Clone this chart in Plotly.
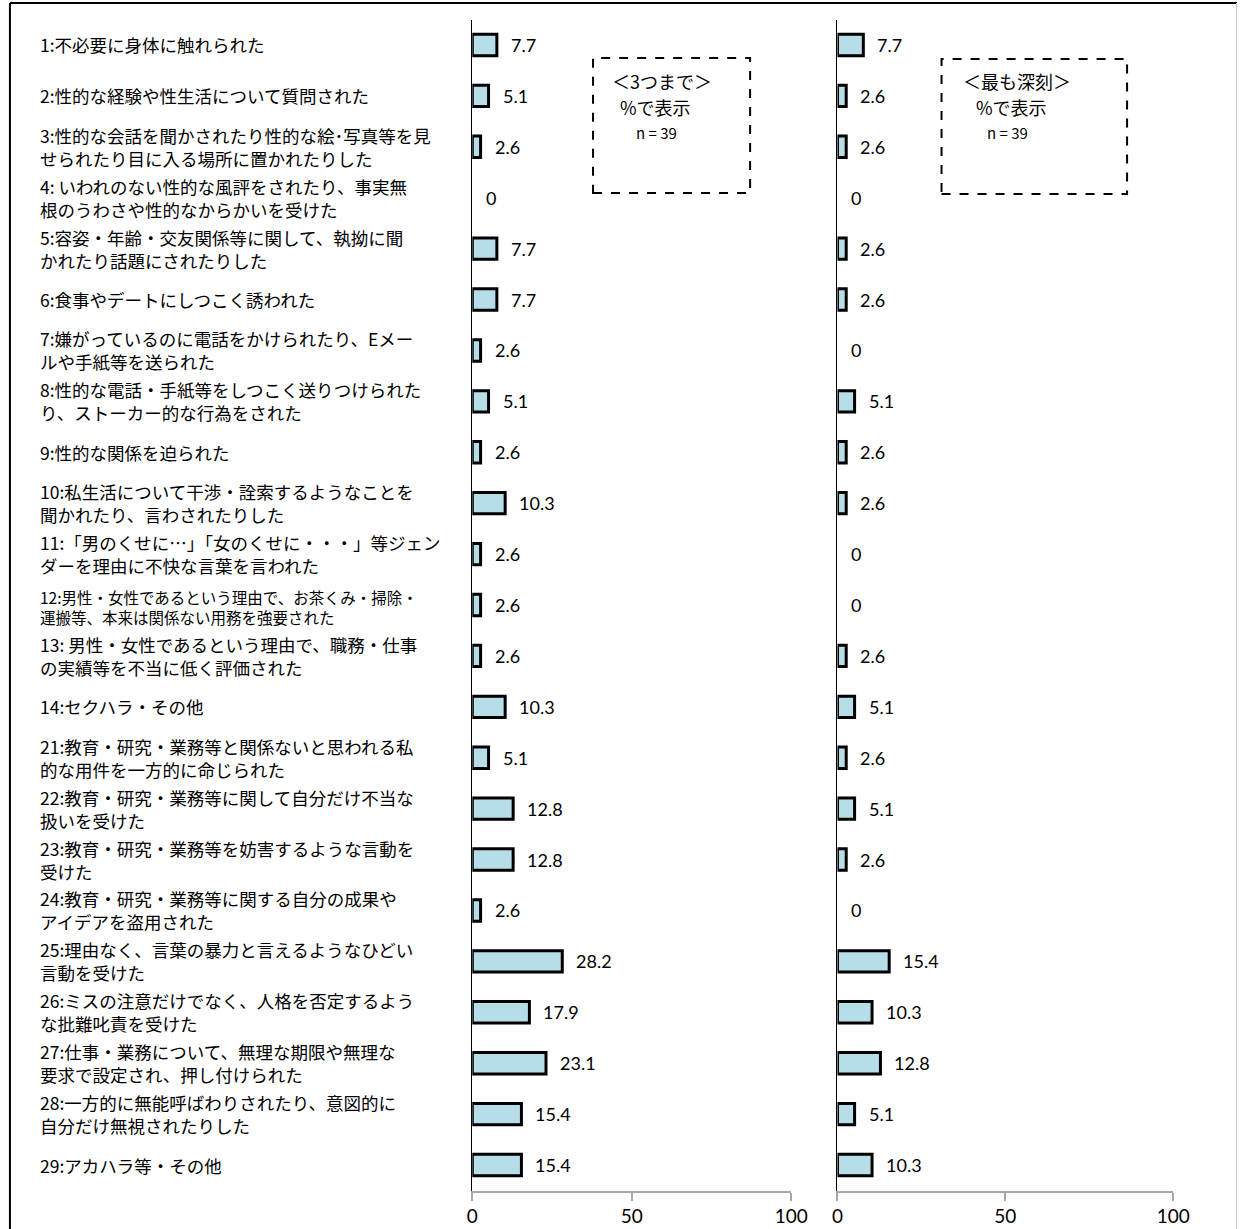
import plotly.graph_objects as go

# Survey items; <br> marks the line breaks of the labels
item_texts = [
    "1:不必要に身体に触れられた",
    "2:性的な経験や性生活について質問された",
    "3:性的な会話を聞かされたり性的な絵･写真等を見<br>せられたり目に入る場所に置かれたりした",
    "4: いわれのない性的な風評をされたり、事実無<br>根のうわさや性的なからかいを受けた",
    "5:容姿・年齢・交友関係等に関して、執拗に聞<br>かれたり話題にされたりした",
    "6:食事やデートにしつこく誘われた",
    "7:嫌がっているのに電話をかけられたり、Eメー<br>ルや手紙等を送られた",
    "8:性的な電話・手紙等をしつこく送りつけられた<br>り、ストーカー的な行為をされた",
    "9:性的な関係を迫られた",
    "10:私生活について干渉・詮索するようなことを<br>聞かれたり、言わされたりした",
    "11:「男のくせに…」「女のくせに・・・」等ジェン<br>ダーを理由に不快な言葉を言われた",
    "12:男性・女性であるという理由で、お茶くみ・掃除・<br>運搬等、本来は関係ない用務を強要された",
    "13: 男性・女性であるという理由で、職務・仕事<br>の実績等を不当に低く評価された",
    "14:セクハラ・その他",
    "21:教育・研究・業務等と関係ないと思われる私<br>的な用件を一方的に命じられた",
    "22:教育・研究・業務等に関して自分だけ不当な<br>扱いを受けた",
    "23:教育・研究・業務等を妨害するような言動を<br>受けた",
    "24:教育・研究・業務等に関する自分の成果や<br>アイデアを盗用された",
    "25:理由なく、言葉の暴力と言えるようなひどい<br>言動を受けた",
    "26:ミスの注意だけでなく、人格を否定するよう<br>な批難叱責を受けた",
    "27:仕事・業務について、無理な期限や無理な<br>要求で設定され、押し付けられた",
    "28:一方的に無能呼ばわりされたり、意図的に<br>自分だけ無視されたりした",
    "29:アカハラ等・その他",
]

# Percentages (n = 39)
up_to_three = [7.7, 5.1, 2.6, 0, 7.7, 7.7, 2.6, 5.1, 2.6, 10.3, 2.6, 2.6, 2.6, 10.3,
               5.1, 12.8, 12.8, 2.6, 28.2, 17.9, 23.1, 15.4, 15.4]
most_serious = [7.7, 2.6, 2.6, 0, 2.6, 2.6, 0, 5.1, 2.6, 2.6, 0, 0, 2.6, 5.1,
                2.6, 5.1, 2.6, 0, 15.4, 10.3, 12.8, 5.1, 10.3]

panel_titles = ["＜3つまで＞", "＜最も深刻＞"]
unit_note = "%で表示"
sample_note = "n = 39"
x_ticks = [0, 50, 100]

W, H = 1255, 1229
BAR_FILL = "#B7DEE8"
AXIS_GREY = "#A6A6A6"
JP_FONT = "Noto Sans CJK JP"
NUM_FONT = "Lato"
N = len(item_texts)


def px_x(p):
    return p / W


def px_y(p):
    return 1 - p / H


fig = go.Figure()
for vals, xa, ya in [(up_to_three, "x", "y"), (most_serious, "x2", "y2")]:
    # no outline on empty bars, so a zero leaves no mark
    outline = [3 if v > 0 else 0 for v in vals]
    fig.add_trace(go.Bar(
        x=vals, y=item_texts, orientation="h", xaxis=xa, yaxis=ya,
        marker=dict(color=BAR_FILL, line=dict(color="black", width=outline)),
        hoverinfo="x", showlegend=False,
    ))

annotations = []
# item wording at the left
for txt in item_texts:
    small = txt.startswith("12:")
    annotations.append(dict(
        x=px_x(33), xref="paper", y=txt, yref="y", text=txt,
        xanchor="left", yanchor="middle", align="left", showarrow=False,
        yshift=-2 if small else 0,
        font=dict(family=JP_FONT, size=15.5 if small else 17.5, color="black"),
    ))
# value labels beside the bars
for vals, xa, ya in [(up_to_three, "x", "y"), (most_serious, "x2", "y2")]:
    for txt, v in zip(item_texts, vals):
        annotations.append(dict(
            x=v, xref=xa, y=txt, yref=ya, text=f"{v:g}",
            xanchor="left", yanchor="middle", xshift=12, showarrow=False,
            font=dict(family=NUM_FONT, size=18, color="black"),
        ))

# legend boxes (dashed) with their notes
boxes = [(598, 58, 758, 193, 668, 665), (953, 59, 1142, 194, 1030, 1022)]
shapes = []
for (x0, y0, x1, y1, cx, nx), title in zip(boxes, panel_titles):
    shapes.append(dict(
        type="rect", xref="paper", yref="paper",
        x0=px_x(x0), x1=px_x(x1), y0=px_y(y1), y1=px_y(y0),
        line=dict(color="black", width=2, dash="dash"), fillcolor="rgba(0,0,0,0)",
    ))
    annotations.append(dict(x=px_x(cx), y=px_y(81), xref="paper", yref="paper",
                            text=title, showarrow=False, xanchor="center", yanchor="middle",
                            font=dict(family=JP_FONT, size=18, color="black")))
    annotations.append(dict(x=px_x(cx - 6), y=px_y(107), xref="paper", yref="paper",
                            text=unit_note, showarrow=False, xanchor="center", yanchor="middle",
                            font=dict(family=JP_FONT, size=18, color="black")))
    annotations.append(dict(x=px_x(nx - 2), y=px_y(132), xref="paper", yref="paper",
                            text=sample_note, showarrow=False, xanchor="center", yanchor="middle",
                            font=dict(family=JP_FONT, size=15, color="black")))

# outer frame
shapes += [
    dict(type="line", xref="paper", yref="paper", x0=px_x(4), x1=px_x(1254),
         y0=px_y(3), y1=px_y(3), line=dict(color="black", width=2)),
    dict(type="line", xref="paper", yref="paper", x0=px_x(4), x1=px_x(4),
         y0=px_y(3), y1=px_y(1232), line=dict(color="black", width=2)),
    dict(type="line", xref="paper", yref="paper", x0=px_x(1253.5), x1=px_x(1253.5),
         y0=px_y(3), y1=px_y(1232), line=dict(color="#D0D0D0", width=1)),
]

y_dom = [px_y(1190.5), px_y(19.5)]
xaxis_common = dict(
    range=[0, 100], tickvals=x_ticks, showgrid=False, zeroline=False,
    showline=True, linecolor=AXIS_GREY, linewidth=2,
    ticks="outside", ticklen=8, tickwidth=2, tickcolor=AXIS_GREY,
    tickfont=dict(family=NUM_FONT, size=19, color="black"), fixedrange=True,
)
yaxis_common = dict(
    type="category", categoryorder="array", categoryarray=item_texts,
    range=[N - 0.5, -0.5], showticklabels=False, ticks="", showgrid=False,
    zeroline=False, showline=True, linecolor="black", linewidth=1, domain=y_dom,
    fixedrange=True,
)

fig.update_layout(
    width=W, height=H, margin=dict(l=0, r=0, t=0, b=0),
    paper_bgcolor="white", plot_bgcolor="white",
    bargap=0.58,
    xaxis=dict(domain=[px_x(475), px_x(800)], anchor="y", **xaxis_common),
    xaxis2=dict(domain=[px_x(847), px_x(1189)], anchor="y2", **xaxis_common),
    yaxis=dict(anchor="x", **yaxis_common),
    yaxis2=dict(anchor="x2", **yaxis_common),
    annotations=annotations, shapes=shapes,
)

fig.write_html("out.html")
